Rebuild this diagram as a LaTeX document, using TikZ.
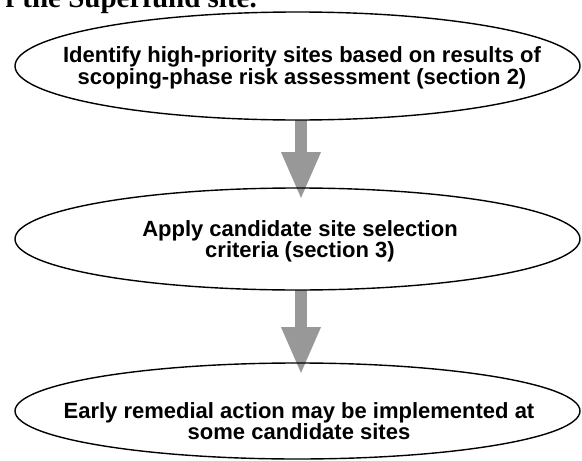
\documentclass[tikz,border=0pt]{standalone}
\usepackage{fontspec}
\setmainfont{Liberation Sans}
\newfontfamily\bodyserif{Liberation Serif}
\usetikzlibrary{shapes.geometric,arrows.meta}
\definecolor{arrowgray}{RGB}{152,152,152}
\pgfdeclarelayer{bg}
\pgfsetlayers{bg,main}
\begin{document}
\begin{tikzpicture}[x=1pt,y=-1pt,
  ellbox/.style={ellipse, draw=black, line width=1.4pt, inner sep=0pt, outer sep=0pt,
                 minimum width=565pt},
  lbl/.style={align=center, inner sep=0pt,
              font=\bfseries\fontsize{22}{20.5}\selectfont},
  flow/.style={draw=arrowgray, line width=12pt,
               -{Triangle[width=36pt,length=48pt]}}]
\useasboundingbox (0,0) rectangle (582,461);
% cropped body text at the top
\node[anchor=base east, inner sep=0pt, font=\bodyserif\bfseries\fontsize{29}{30}\selectfont]
  (body) at (257,7) {f the Superfund site.};
% ellipses
\node[ellbox, minimum height=108pt] (e1) at (297.5,66) {};
\node[ellbox, minimum height=102pt] (e2) at (297.5,239) {};
\node[ellbox, minimum height=96pt]  (e3) at (297.5,411) {};
% labels
\node[lbl] (t1) at (302,68) {Identify high-priority sites based on results of\\scoping-phase risk assessment (section 2)};
\node[lbl] (t2) at (300,241.5) {Apply candidate site selection\\criteria (section 3)};
\node[lbl] (t3) at (299,421) {Early remedial action may be implemented at\\some candidate sites};
% arrows
\begin{pgfonlayer}{bg}
\draw[flow] ([xshift=3.5pt]e1.south) -- ([xshift=3.5pt,yshift=-12pt]e2.north);
\draw[flow] ([xshift=3.5pt]e2.south) -- ([xshift=3.5pt,yshift=-12pt]e3.north);
\end{pgfonlayer}
\end{tikzpicture}
\end{document}
